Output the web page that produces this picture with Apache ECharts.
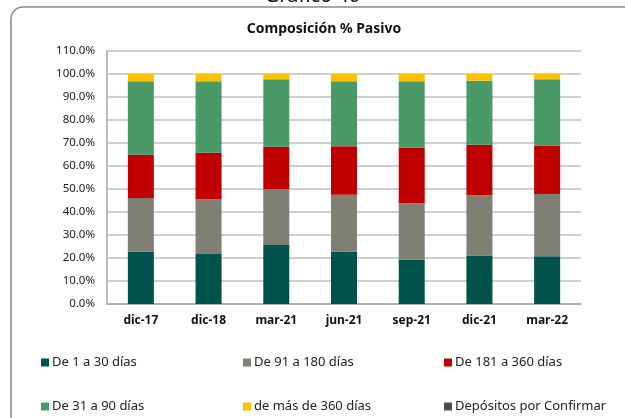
<!DOCTYPE html>
<html>
<head>
<meta charset="utf-8">
<script src="https://cdn.jsdelivr.net/npm/echarts@6/dist/echarts.min.js"></script>
<style>
html,body{margin:0;padding:0;background:#fff;}
#c{width:625px;height:418px;}
</style>
</head>
<body>
<div id="c"></div>
<script>
var categories = ['dic-17','dic-18','mar-21','jun-21','sep-21','dic-21','mar-22'];
var seriesNames = ['De 1 a 30 días','De 91 a 180 días','De 181 a 360 días','De 31 a 90 días','de más de 360 días','Depósitos por Confirmar'];
var d1a30   = [22.7, 21.7, 25.7, 22.8, 19.2, 21.1, 20.8];
var d91a180 = [23.4, 23.8, 24.2, 24.7, 24.6, 26.2, 27.0];
var d181a360= [18.8, 20.3, 18.5, 21.1, 24.1, 21.9, 21.1];
var d31a90  = [31.9, 31.0, 29.3, 28.2, 28.9, 27.9, 28.8];
var dMas360 = [3.2, 3.2, 2.3, 3.2, 3.2, 2.9, 2.3];
var dConf   = [0, 0, 0, 0, 0, 0, 0];
var yTicks = [0,10,20,30,40,50,60,70,80,90,100,110];

var colors = ['#00524A','#7F7F73','#C00000','#4A9A68','#FFC000','#4D4D4D'];
var values = [d1a30, d91a180, d181a360, d31a90, dMas360, dConf];
var FONT = 'Noto Sans';

var series = seriesNames.map(function(n,i){
  return {name:n, type:'bar', stack:'t', barWidth:26, data:values[i],
    itemStyle:{color:colors[i]}};
});

var legendPos = [[41,356],[243,356],[444,356],[41,400],[243,400],[444,400]];
var legendOrder = [0,1,2,3,4,5];
var legends = legendOrder.map(function(si,k){
  return {data:[seriesNames[si]], left:legendPos[k][0], top:legendPos[k][1],
    icon:'rect', itemWidth:8, itemHeight:8, itemGap:0,
    textStyle:{fontFamily:FONT, fontSize:13, color:'#222', padding:[0,0,0,-2]},
    padding:0, selectedMode:false};
});

var chart = echarts.init(document.getElementById('c'), null, {renderer:'canvas'});
chart.setOption({
  animation:false,
  backgroundColor:'#fff',
  graphic:[
    {type:'rect', shape:{x:11, y:7, width:640, height:440, r:12},
     style:{fill:'none', stroke:'#8a8a8a', lineWidth:1.5}, z:-1},
    {type:'text', left:'center', top:-14,
     style:{text:'Gráfico 40', font:'20px "Noto Sans"', fill:'#111'}}
  ],
  title:{text:'Composición % Pasivo', left:319, textAlign:'center', top:17,
    textStyle:{fontFamily:FONT, fontSize:14, fontWeight:'bold', color:'#111'}},
  legend:legends,
  grid:{left:107, right:44, top:51, bottom:114},
  xAxis:{type:'category', data:categories,
    axisLine:{lineStyle:{color:'#a6a6a6', width:1.5}},
    axisTick:{show:false},
    axisLabel:{fontFamily:FONT, fontSize:12, fontWeight:'bold', color:'#111', margin:11}},
  yAxis:{type:'value', min:yTicks[0], max:yTicks[yTicks.length-1], interval:10,
    axisLine:{show:true, lineStyle:{color:'#a6a6a6', width:1.5}},
    axisTick:{show:false},
    splitLine:{lineStyle:{color:'#bfbfbf', width:1.5}},
    axisLabel:{fontFamily:FONT, fontSize:11.5, color:'#222', margin:12,
      formatter:function(v){return v.toFixed(1)+'%';}}},
  series:series
});
</script>
</body>
</html>
